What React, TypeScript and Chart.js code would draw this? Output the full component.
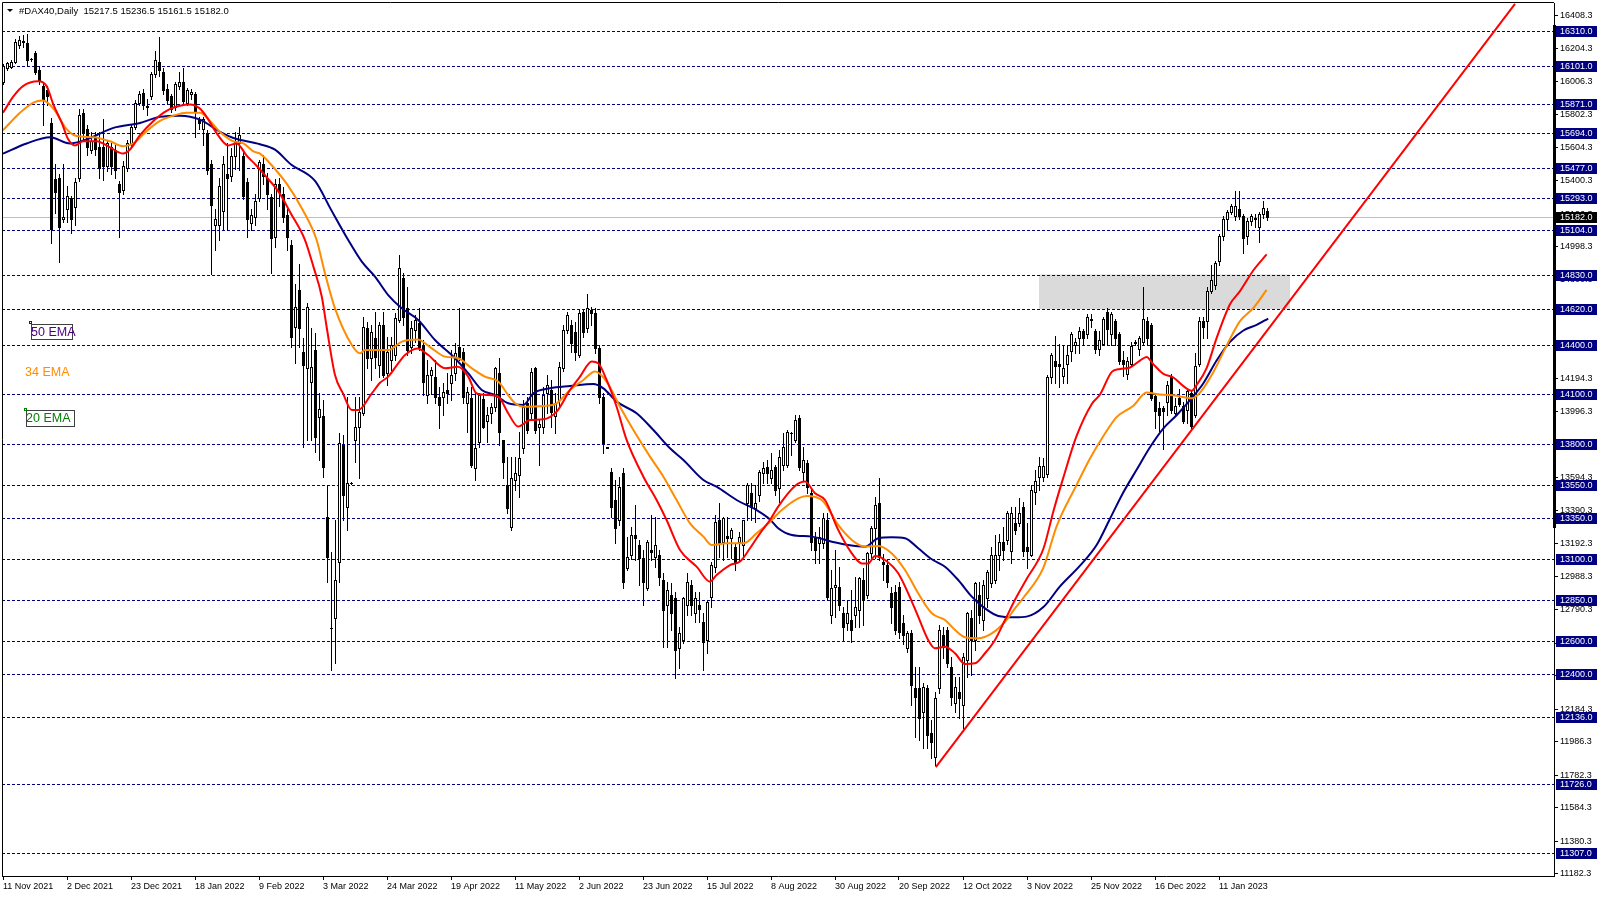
import React, { useEffect, useRef } from 'react';
import { Chart, registerables } from 'chart.js';

Chart.register(...registerables);

// ---------- DATA ----------
const opens = [
  16001, 16088, 16096, 16125, 16225, 16250, 16237, 16140, 16180, 16076,
  15977, 15952, 15752, 15410, 15417, 15165, 15231, 15293, 15243, 15417,
  15815, 15716, 15591, 15666, 15604, 15604, 15492, 15604, 15590, 15380,
  15343, 15480, 15627, 15728, 15877, 15935, 15852, 15915, 16051, 16125,
  16063, 15960, 15915, 15852, 15976, 16001, 15877, 15926, 15926, 15777,
  15715, 15690, 15504, 15131, 15131, 15218, 15442, 15430, 15554, 15628,
  15554, 15392, 15144, 15181, 15293, 15505, 15420, 15300, 15060, 15380,
  15320, 15190, 15010, 14513, 14736, 14360, 14259, 14178, 14371, 13964,
  13969, 13356, 12680, 12737, 13082, 13792, 13417, 13560, 13823, 13904,
  13985, 14503, 14320, 14442, 14279, 14523, 14228, 14310, 14340, 14553,
  14807, 14624, 14391, 14492, 14533, 14401, 14097, 14219, 14208, 14086,
  14086, 14127, 14168, 14229, 14391, 14360, 14046, 14076, 13650, 13813,
  14071, 13940, 13985, 14026, 14229, 13823, 13549, 13290, 13580, 13610,
  13772, 14046, 13985, 14259, 13904, 13904, 14107, 14127, 13970, 14066,
  14259, 14492, 14523, 14482, 14340, 14604, 14503, 14614, 14594, 14381,
  14087, 13775, 13630, 13458, 13336, 13620, 13041, 13122, 13244, 13183,
  13102, 12920, 13153, 13112, 13122, 12970, 12818, 12879, 12858, 12554,
  12605, 12818, 12940, 12767, 12818, 12716, 12605, 12868, 13051, 13336,
  13204, 13235, 13225, 13173, 13204, 13184, 13437, 13498, 13407, 13488,
  13620, 13660, 13589, 13660, 13528, 13670, 13670, 13863, 13823, 13954,
  13629, 13680, 13498, 13224, 13193, 13193, 13335, 12757, 12929, 12929,
  12767, 12706, 12726, 12757, 12787, 12970, 12879, 13132, 13284, 13437,
  13082, 13061, 12889, 12899, 12929, 12706, 12554, 12645, 12311, 12311,
  12169, 12311, 12037, 11895, 12310, 12635, 12665, 12442, 12219, 12290,
  12209, 12483, 12736, 12605, 12878, 12726, 12858, 12950, 12970, 13122,
  13203, 13213, 13148, 13320, 13320, 13412, 13172, 13125, 13503, 13595,
  13595, 13618, 14203, 14306, 14283, 14214, 14283, 14363, 14398, 14443,
  14489, 14466, 14555, 14489, 14374, 14409, 14604, 14466, 14547, 14466,
  14310, 14226, 14283, 14415, 14374, 14420, 14547, 14523, 14088, 14019,
  14019, 14054, 14203, 13988, 14077, 14031, 14008, 14111, 13974, 14283,
  14546, 14546, 14730, 14764, 14913, 15062, 15165, 15211, 15188, 15227,
  15188, 15062, 15154, 15176, 15119, 15199, 15217.5,
];

const highs = [
  16113, 16125, 16135, 16265, 16280, 16290, 16295, 16150, 16190, 16095,
  16000, 15980, 15780, 15505, 15440, 15505, 15370, 15310, 15420, 15840,
  15840, 15740, 15700, 15700, 15700, 15777, 15650, 15630, 15620, 15400,
  15520, 15650, 15740, 15890, 15950, 15960, 15900, 16063, 16190, 16274,
  16090, 15990, 15930, 16000, 16063, 16088, 15965, 15960, 15940, 15790,
  15790, 15710, 15530, 15231, 15420, 15550, 15630, 15600, 15700, 15727,
  15580, 15420, 15230, 15320, 15530, 15560, 15450, 15320, 15410, 15420,
  15360, 15230, 15040, 14775, 14897, 14442, 14655, 14503, 14472, 14107,
  14066, 13549, 13142, 13335, 13863, 13853, 14086, 13565, 14086, 14086,
  14573, 14543, 14523, 14604, 14543, 14604, 14452, 14452, 14594, 14949,
  14837, 14756, 14545, 14583, 14624, 14432, 14310, 14269, 14310, 14147,
  14168, 14229, 14370, 14411, 14624, 14381, 14147, 14147, 14107, 14107,
  14107, 14026, 14046, 14269, 14320, 13823, 13721, 13721, 13720, 13873,
  14066, 14086, 14259, 14269, 13945, 14147, 14218, 14188, 14106, 14300,
  14520, 14604, 14553, 14543, 14614, 14614, 14712, 14635, 14624, 14400,
  14106, 13780, 13650, 13579, 13600, 13650, 13234, 13290, 13427, 13214,
  13153, 13214, 13366, 13356, 13153, 13011, 12960, 12950, 12899, 12686,
  12868, 13011, 12970, 12899, 12899, 12767, 12848, 13082, 13366, 13437,
  13356, 13356, 13285, 13193, 13265, 13336, 13559, 13559, 13549, 13640,
  13691, 13700, 13741, 13670, 13762, 13863, 13883, 13873, 13975, 13975,
  13782, 13700, 13528, 13264, 13295, 13376, 13376, 13031, 13153, 13051,
  12808, 12848, 12909, 12990, 12990, 13041, 13143, 13300, 13477, 13589,
  13130, 13092, 12929, 12940, 12960, 12757, 12660, 12665, 12442, 12442,
  12341, 12331, 12118, 12290, 12696, 12686, 12686, 12503, 12382, 12382,
  12523, 12777, 12787, 12960, 12960, 12970, 13031, 13173, 13244, 13250,
  13295, 13390, 13412, 13412, 13470, 13446, 13320, 13550, 13641, 13721,
  13710, 14220, 14352, 14455, 14409, 14398, 14398, 14478, 14443, 14512,
  14500, 14592, 14592, 14500, 14489, 14569, 14627, 14604, 14558, 14478,
  14363, 14329, 14420, 14430, 14455, 14753, 14569, 14535, 14111, 14054,
  14031, 14180, 14226, 14077, 14134, 14054, 14134, 14123, 14352, 14569,
  14569, 14753, 14890, 14913, 15074, 15188, 15222, 15257, 15337, 15337,
  15200, 15176, 15200, 15200, 15211, 15280, 15236.5,
];

const lows = [
  15989, 16075, 16090, 16115, 16210, 16215, 16100, 16130, 16050, 15990,
  15740, 15860, 15020, 15205, 14908, 15150, 15150, 15080, 15130, 15400,
  15650, 15560, 15570, 15560, 15420, 15405, 15460, 15440, 15420, 15057,
  15320, 15460, 15610, 15715, 15860, 15840, 15800, 15900, 16030, 16040,
  15930, 15870, 15820, 15830, 15960, 15870, 15860, 15900, 15666, 15715,
  15616, 15440, 14836, 14982, 15040, 15100, 15100, 15400, 15470, 15466,
  15290, 15057, 15100, 15130, 15280, 15380, 15230, 14837, 15000, 15250,
  15150, 14980, 14390, 14290, 14390, 13782, 13823, 13823, 13752, 13701,
  13600, 12960, 12422, 12463, 12960, 13335, 13275, 13555, 13690, 13589,
  13975, 14259, 14188, 14259, 14208, 14208, 14157, 14249, 14310, 14540,
  14523, 14340, 14350, 14420, 14370, 14097, 14046, 14100, 14046, 13894,
  13975, 14046, 14066, 14188, 14310, 14046, 13874, 13660, 13579, 13782,
  13894, 13813, 13924, 14000, 13792, 13589, 13380, 13275, 13520, 13478,
  13741, 13863, 13950, 13863, 13670, 13863, 13985, 13904, 13863, 14026,
  14240, 14472, 14360, 14310, 14330, 14452, 14480, 14523, 14350, 14050,
  13741, 13772, 13356, 13194, 13305, 12920, 13031, 13100, 13092, 12940,
  12818, 12910, 13092, 13051, 12940, 12564, 12564, 12665, 12371, 12432,
  12584, 12757, 12757, 12716, 12716, 12422, 12523, 12808, 13020, 13112,
  13092, 13112, 13102, 13031, 13092, 13112, 13336, 13336, 13325, 13450,
  13559, 13560, 13560, 13488, 13447, 13640, 13660, 13731, 13813, 13640,
  13579, 13500, 13150, 13072, 13072, 13163, 12848, 12706, 12747, 12787,
  12604, 12665, 12594, 12686, 12686, 12696, 12860, 13100, 13102, 13092,
  12970, 12929, 12706, 12640, 12615, 12580, 12530, 12209, 12016, 11996,
  11945, 11945, 11884, 11845, 12280, 12493, 12442, 12209, 12168, 12128,
  12067, 12382, 12392, 12544, 12706, 12665, 12807, 12930, 12950, 13031,
  13092, 13190, 13072, 13250, 13300, 13114, 13045, 13114, 13435, 13515,
  13572, 13600, 14168, 14168, 14145, 14168, 14168, 14306, 14352, 14352,
  14398, 14443, 14512, 14352, 14340, 14398, 14398, 14398, 14398, 14283,
  14214, 14191, 14271, 14400, 14340, 14398, 14398, 14065, 13893, 13880,
  13767, 13973, 13985, 13973, 14031, 13927, 13927, 13893, 13962, 14271,
  14443, 14443, 14720, 14741, 14890, 15040, 15108, 15200, 15160, 15170,
  14959, 15016, 15130, 15120, 15028, 15176, 15161.5,
];

const closes = [
  16101, 16118, 16125, 16245, 16255, 16245, 16138, 16143, 16063, 16006,
  15897, 15915, 15107, 15330, 15119, 15180, 15306, 15169, 15392, 15802,
  15691, 15604, 15641, 15592, 15480, 15492, 15628, 15492, 15467, 15330,
  15492, 15628, 15728, 15877, 15926, 15864, 15855, 16051, 16138, 16076,
  15952, 15890, 15840, 15989, 16001, 15889, 15951, 15940, 15827, 15753,
  15777, 15467, 15256, 15168, 15367, 15504, 15417, 15554, 15641, 15678,
  15306, 15169, 15194, 15280, 15517, 15430, 15320, 15050, 15380, 15330,
  15180, 15060, 14451, 14634, 14502, 14279, 14634, 14269, 13843, 14009,
  13660, 13112, 12676, 12970, 13802, 13488, 13559, 13562, 13904, 13990,
  14513, 14320, 14482, 14330, 14523, 14218, 14360, 14401, 14563, 14868,
  14573, 14370, 14502, 14553, 14391, 14178, 14219, 14249, 14086, 14036,
  14117, 14107, 14219, 14350, 14330, 14086, 14117, 13670, 13772, 14097,
  13904, 13975, 14026, 14259, 13874, 13691, 13407, 13589, 13620, 13711,
  14026, 13883, 14239, 13884, 13920, 14097, 14158, 13995, 14050, 14269,
  14492, 14584, 14411, 14360, 14594, 14482, 14624, 14594, 14381, 14086,
  13802, 13777, 13417, 13285, 13538, 12960, 13112, 13244, 13224, 13102,
  12960, 13204, 13143, 13183, 12990, 12787, 12909, 12767, 12544, 12645,
  12858, 12960, 12818, 12858, 12792, 12595, 12838, 13061, 13325, 13194,
  13346, 13225, 13275, 13082, 13234, 13336, 13549, 13417, 13437, 13630,
  13650, 13620, 13640, 13518, 13721, 13782, 13873, 13862, 13944, 13660,
  13700, 13538, 13203, 13153, 13234, 13345, 12868, 12919, 12940, 12818,
  12686, 12767, 12665, 12807, 12980, 12848, 13132, 13284, 13427, 13112,
  13070, 12960, 12808, 12665, 12655, 12635, 12645, 12331, 12260, 12128,
  12321, 12026, 11986, 12250, 12665, 12564, 12463, 12260, 12321, 12250,
  12503, 12767, 12605, 12950, 12757, 12939, 13020, 13122, 13122, 13203,
  13153, 13376, 13377, 13275, 13377, 13148, 13148, 13515, 13572, 13664,
  13664, 14203, 14340, 14271, 14272, 14260, 14340, 14466, 14420, 14489,
  14443, 14569, 14558, 14374, 14432, 14558, 14501, 14592, 14443, 14306,
  14283, 14306, 14397, 14417, 14443, 14558, 14443, 14077, 13996, 13973,
  13996, 14157, 14008, 14031, 14042, 13939, 14123, 13905, 14271, 14546,
  14512, 14730, 14798, 14901, 15062, 15165, 15211, 15245, 15245, 15188,
  15050, 15154, 15188, 15165, 15199, 15234, 15182,
];

// EMA readings: [bar index, price]
const ema20 = [
  [0, 15815], [2.6, 15914], [5, 15977], [8.8, 16006], [10.9, 15977], [12.6, 15865], [14.7, 15753],
  [16.3, 15653], [18, 15616], [20, 15641], [23.4, 15641], [26.75, 15604], [30, 15566], [31.75, 15591],
  [34.25, 15678], [37.6, 15765], [40.9, 15827], [44.25, 15857], [46.75, 15865], [49.25, 15840],
  [50.9, 15790], [53.4, 15691], [56.3, 15616], [58.4, 15628], [60.9, 15554], [63.4, 15492],
  [66, 15420], [69, 15330], [72, 15200], [75.5, 15040], [77.6, 14878], [79.7, 14695], [80.9, 14512],
  [83, 14218], [85, 14106], [87.2, 14005], [88.8, 14005], [92.2, 14106], [94.25, 14171], [96.3, 14208],
  [98.8, 14289], [100.5, 14340], [103.6, 14380], [106.3, 14340], [110.5, 14259], [113.8, 14269],
  [116.3, 14208], [118.4, 14106], [121.3, 14096], [123.8, 14086], [126.3, 13985], [128.8, 13904],
  [131.75, 13944], [135, 13948], [138.4, 13995], [141.75, 14127], [144.25, 14208], [147.2, 14300],
  [148.8, 14289], [150.9, 14188], [153.4, 14025], [155.9, 13823], [160.1, 13599], [163.4, 13457],
  [165.9, 13335], [169.25, 13153], [173.4, 13051], [176.75, 12960], [178.4, 13000], [181.75, 13061],
  [184.25, 13082], [186.75, 13163], [189.25, 13254], [191.75, 13335], [193.8, 13417], [198, 13542],
  [200.5, 13569], [203, 13498], [205.5, 13457], [208.8, 13275], [212.2, 13132], [214.7, 13071],
  [216.3, 13071], [218, 13116], [220.5, 13092], [223.8, 13011], [226.3, 12889], [228.8, 12747],
  [231.3, 12605], [233, 12554], [235.5, 12564], [238, 12524], [240.5, 12459], [243, 12463],
  [245.5, 12524], [248, 12605], [250.5, 12726], [253, 12850], [255.9, 12976], [260.1, 13160],
  [262.6, 13389], [265.1, 13595], [268.4, 13847], [272.2, 14042], [274.25, 14099], [277.2, 14237],
  [279.25, 14255], [281.75, 14264], [284.25, 14306], [285.9, 14328], [287.6, 14283], [290.1, 14225],
  [292.6, 14203], [295.1, 14150], [297.2, 14122], [298.4, 14157], [300.9, 14260], [303.4, 14443],
  [306.75, 14649], [309.25, 14729], [312.6, 14856], [315.9, 14952],
];

const ema34 = [
  [0, 15708], [4.25, 15815], [7.6, 15877], [10, 15889], [12.6, 15840], [15.9, 15715], [18.4, 15673],
  [22.6, 15666], [26.75, 15641], [30, 15611], [32.6, 15628], [35.9, 15703], [39.25, 15765],
  [42.6, 15797], [45.9, 15815], [49.25, 15815], [51.75, 15765], [54.25, 15698], [57.6, 15641],
  [60.1, 15628], [62.6, 15579], [64.25, 15566], [67, 15500], [71, 15380], [75, 15220], [78.4, 15040],
  [80.5, 14837], [83, 14624], [87.2, 14401], [89.25, 14350], [90.5, 14370], [96.3, 14370],
  [99.7, 14421], [103.6, 14435], [107.2, 14380], [110.5, 14330], [113.8, 14320], [117.2, 14259],
  [120.5, 14208], [123.8, 14178], [126.3, 14096], [128, 14046], [130.1, 14025], [135, 14030],
  [138.4, 14046], [141.75, 14127], [145.1, 14188], [148, 14239], [150.9, 14178], [154.25, 14025],
  [157.6, 13883], [161.75, 13721], [165.1, 13599], [168.4, 13457], [171.75, 13315], [175.1, 13234],
  [177.2, 13183], [180.9, 13193], [185.1, 13193], [188.4, 13254], [191.75, 13325], [194.7, 13396],
  [198.8, 13467], [200.9, 13482], [204.7, 13457], [208.8, 13305], [212.2, 13214], [215.5, 13173],
  [218.8, 13177], [222.2, 13132], [225.5, 13031], [228.8, 12889], [232.2, 12767], [235.5, 12726],
  [238, 12666], [240.5, 12621], [243.8, 12615], [247.2, 12645], [250.5, 12716], [253, 12797],
  [255.1, 12862], [260.1, 13045], [263.4, 13297], [268.4, 13549], [271.75, 13710], [275.1, 13847],
  [278.4, 13962], [282.6, 14031], [285.9, 14111], [289.25, 14099], [293.4, 14092], [297.2, 14076],
  [299.25, 14111], [302.6, 14237], [305.9, 14397], [309.25, 14546], [312.6, 14626], [315.9, 14736],
];

const ema50 = [
  [0, 15566], [5.9, 15628], [11.75, 15666], [16.75, 15628], [20.9, 15653], [27.6, 15723],
  [34.25, 15753], [39.25, 15790], [44.25, 15797], [49.25, 15773], [54.25, 15698], [57.6, 15661],
  [64.25, 15623], [68, 15590], [72, 15500], [78, 15400], [82, 15225], [86.3, 15040], [89.7, 14908],
  [93, 14817], [96.3, 14705], [99.7, 14624], [103.8, 14553], [108, 14431], [113, 14320],
  [116.3, 14229], [119.7, 14127], [123, 14096], [126.3, 14046], [130.1, 14036], [132.6, 14107],
  [136.75, 14137], [141.75, 14151], [147.6, 14164], [150.1, 14137], [153.4, 14056], [158.4, 13985],
  [162.6, 13883], [166.75, 13772], [170.1, 13701], [175.1, 13579], [178.4, 13538], [183.4, 13457],
  [188.4, 13396], [191.75, 13339], [193.8, 13285], [197.2, 13244], [202.2, 13234], [207.2, 13203],
  [211.3, 13183], [215.5, 13173], [218.8, 13224], [222.2, 13230], [225.5, 13224], [228.8, 13163],
  [232.2, 13096], [235.5, 13051], [238.8, 12970], [242.2, 12869], [245.5, 12797], [248.8, 12751],
  [253, 12743], [255.9, 12747], [260.1, 12805], [264.25, 12931], [269.25, 13057], [273.4, 13183],
  [276.75, 13343], [280.1, 13504], [283.4, 13641], [286.75, 13778], [290.1, 13893], [293.4, 13973],
  [296.75, 14065], [300.1, 14168], [303.4, 14306], [306.75, 14420], [310.1, 14489], [313.4, 14523],
  [316.3, 14562],
];

const dateLabels = [
  '11 Nov 2021', '2 Dec 2021', '23 Dec 2021', '18 Jan 2022', '9 Feb 2022', '3 Mar 2022',
  '24 Mar 2022', '19 Apr 2022', '11 May 2022', '2 Jun 2022', '23 Jun 2022', '15 Jul 2022',
  '8 Aug 2022', '30 Aug 2022', '20 Sep 2022', '12 Oct 2022', '3 Nov 2022', '25 Nov 2022',
  '16 Dec 2022', '11 Jan 2023',
];
const labelStep = 16;

const priceTicks = [
  16408.3, 16204.3, 16006.3, 15802.3, 15604.3, 15400.3, 15196.3, 14998.3, 14800.3, 14596.3,
  14398.3, 14194.3, 13996.3, 13792.3, 13594.3, 13390.3, 13192.3, 12988.3, 12790.3, 12586.3,
  12388.3, 12184.3, 11986.3, 11782.3, 11584.3, 11380.3, 11182.3,
];

const levels = [
  16310, 16101, 15871, 15694, 15477, 15293, 15104, 14830, 14620, 14400, 14100,
  13800, 13550, 13350, 13100, 12850, 12600, 12400, 12136, 11726, 11307,
];
const lastPrice = 15182.0;

const trendIdx = [233.2, 378];
const trendPrice = [11831, 16478];
const zoneIdx = [259, 321.75];
const zonePrice = [14620, 14830];

const titleText = '#DAX40,Daily  15217.5 15236.5 15161.5 15182.0';
const FONT = "'Liberation Sans', Arial, sans-serif";

const mtPlugin = {
  id: 'mtPlugin',
  beforeDatasetsDraw(chart: any) {
    const { ctx, chartArea: a } = chart;
    const x = chart.scales.x;
    const y = chart.scales.y;
    ctx.save();
    ctx.beginPath();
    ctx.rect(a.left, a.top, a.right - a.left, a.bottom - a.top);
    ctx.clip();
    // zone
    const zx1 = x.getPixelForValue(zoneIdx[0]);
    const zx2 = x.getPixelForValue(zoneIdx[1]);
    const zy1 = y.getPixelForValue(zonePrice[1]);
    const zy2 = y.getPixelForValue(zonePrice[0]);
    ctx.fillStyle = '#DADADA';
    ctx.fillRect(zx1, zy1, zx2 - zx1, zy2 - zy1);
    // last price line
    const lp = Math.round(y.getPixelForValue(lastPrice)) + 0.5;
    ctx.strokeStyle = '#C0C0C0';
    ctx.lineWidth = 1;
    ctx.beginPath();
    ctx.moveTo(a.left, lp);
    ctx.lineTo(a.right, lp);
    ctx.stroke();
    // levels
    ctx.strokeStyle = '#000080';
    ctx.setLineDash([3, 2]);
    for (const lv of levels) {
      const py = Math.round(y.getPixelForValue(lv)) + 0.5;
      ctx.beginPath();
      ctx.moveTo(a.left, py);
      ctx.lineTo(a.right, py);
      ctx.stroke();
    }
    ctx.setLineDash([]);
    // candles
    for (let i = 0; i < closes.length; i++) {
      const cx = Math.round(x.getPixelForValue(i));
      const yo = Math.round(y.getPixelForValue(opens[i]));
      const yc = Math.round(y.getPixelForValue(closes[i]));
      const yh = Math.round(y.getPixelForValue(highs[i]));
      const yl = Math.round(y.getPixelForValue(lows[i]));
      ctx.fillStyle = '#000';
      ctx.fillRect(cx, yh, 1, yl - yh + 1);
      const top = Math.min(yo, yc);
      const bot = Math.max(yo, yc);
      ctx.fillRect(cx - 1, top, 3, bot - top + 1);
      if (closes[i] > opens[i] && bot - top >= 2) {
        ctx.fillStyle = '#fff';
        ctx.fillRect(cx, top + 1, 1, bot - top - 1);
      }
    }
    ctx.restore();
  },
  afterDraw(chart: any) {
    const { ctx, chartArea: a } = chart;
    const y = chart.scales.y;
    ctx.save();
    // frame
    ctx.strokeStyle = '#000';
    ctx.lineWidth = 1;
    ctx.beginPath();
    ctx.moveTo(a.left + 0.5, a.bottom);
    ctx.lineTo(a.left + 0.5, a.top - 0.5);
    ctx.lineTo(a.right, a.top - 0.5);
    ctx.stroke();
    ctx.fillStyle = '#000';
    ctx.fillRect(a.right - 1, 25, 3, 503);
    // level boxes
    ctx.font = `9px ${FONT}`;
    ctx.textBaseline = 'middle';
    ctx.textAlign = 'left';
    for (const lv of levels) {
      const py = Math.round(y.getPixelForValue(lv));
      ctx.fillStyle = '#000080';
      ctx.fillRect(a.right + 2, py - 5, 41, 11);
      ctx.fillStyle = '#fff';
      ctx.fillText(lv.toFixed(1), a.right + 6, py + 0.5);
    }
    const lpy = Math.round(y.getPixelForValue(lastPrice));
    ctx.fillStyle = '#000';
    ctx.fillRect(a.right + 2, lpy - 5, 41, 11);
    ctx.fillStyle = '#fff';
    ctx.fillText(lastPrice.toFixed(1), a.right + 6, lpy + 0.5);
    // title
    ctx.fillStyle = '#000';
    ctx.beginPath();
    ctx.moveTo(7, 9);
    ctx.lineTo(13, 9);
    ctx.lineTo(10, 12);
    ctx.closePath();
    ctx.fill();
    ctx.font = `9.5px ${FONT}`;
    ctx.fillText(titleText, 19, 11);
    // EMA labels
    ctx.font = `12.5px ${FONT}`;
    ctx.strokeStyle = '#404040';
    ctx.strokeRect(31.5, 324.5, 41, 15);
    ctx.fillStyle = '#4B0082';
    ctx.fillText('50 EMA', 31, 332.5);
    ctx.strokeStyle = '#4B0082';
    ctx.strokeRect(29.5, 321.5, 2, 2);
    ctx.fillStyle = '#FF8C00';
    ctx.fillText('34 EMA', 25, 372.5);
    ctx.strokeStyle = '#404040';
    ctx.strokeRect(26.5, 410.5, 48, 16);
    ctx.fillStyle = '#008000';
    ctx.fillText('20 EMA', 26, 418.5);
    ctx.strokeStyle = '#008000';
    ctx.strokeRect(24.5, 408.5, 2, 2);
    ctx.restore();
  },
};

export default function App() {
  const ref = useRef<HTMLCanvasElement | null>(null);
  useEffect(() => {
    if (!ref.current) return;
    const toPts = (arr: number[][]) => arr.map(([i, v]) => ({ x: i, y: v }));
    const chart = new Chart(ref.current, {
      type: 'line',
      data: {
        datasets: [
          { label: 'EMA20', data: toPts(ema20), borderColor: '#FF0000', borderWidth: 2, pointRadius: 0, cubicInterpolationMode: 'monotone' },
          { label: 'EMA34', data: toPts(ema34), borderColor: '#FF8C00', borderWidth: 2, pointRadius: 0, cubicInterpolationMode: 'monotone' },
          { label: 'EMA50', data: toPts(ema50), borderColor: '#000080', borderWidth: 2, pointRadius: 0, cubicInterpolationMode: 'monotone' },
          {
            label: 'Trend',
            data: [{ x: trendIdx[0], y: trendPrice[0] }, { x: trendIdx[1], y: trendPrice[1] }],
            borderColor: '#FF0000', borderWidth: 2, pointRadius: 0,
          },
        ],
      } as any,
      options: {
        animation: false,
        responsive: true,
        maintainAspectRatio: false,
        events: [],
        layout: { padding: { left: 2, top: 3, right: 0, bottom: 0 } },
        plugins: { legend: { display: false }, tooltip: { enabled: false }, title: { display: false } },
        scales: {
          x: {
            type: 'linear',
            bounds: 'data',
            min: -0.25,
            max: 387.75,
            afterBuildTicks: (s: any) => {
              s.ticks = dateLabels.map((_, k) => ({ value: k * labelStep }));
            },
            afterFit: (s: any) => {
              s.height = 21;
              s.paddingLeft = 0; s.paddingRight = 0; s.paddingTop = 0; s.paddingBottom = 0;
            },
            ticks: {
              autoSkip: false,
              maxRotation: 0,
              minRotation: 0,
              align: 'start',
              padding: 1,
              color: '#000',
              font: { family: FONT, size: 9 },
              callback: (v: any) => dateLabels[Math.round(Number(v) / labelStep)] ?? '',
            },
            grid: { drawOnChartArea: false, drawTicks: true, tickLength: 4, color: '#000' },
            border: { display: true, color: '#000', width: 1 },
          },
          y: {
            type: 'linear',
            position: 'right',
            bounds: 'data',
            min: 11167.7,
            max: 16483.1,
            afterBuildTicks: (s: any) => {
              s.ticks = priceTicks.map((v) => ({ value: v }));
            },
            afterFit: (s: any) => {
              s.width = 46;
              s.paddingLeft = 0; s.paddingRight = 0; s.paddingTop = 0; s.paddingBottom = 0;
            },
            ticks: {
              autoSkip: false,
              padding: 2,
              color: '#000',
              font: { family: FONT, size: 9 },
              callback: (v: any) => Number(v).toFixed(1),
            },
            grid: { drawOnChartArea: false, drawTicks: true, tickLength: 4, color: '#000' },
            border: { display: true, color: '#000', width: 1 },
          },
        },
      } as any,
      plugins: [mtPlugin],
    });
    return () => chart.destroy();
  }, []);
  return (
    <div style={{ position: 'fixed', left: 0, top: 0, width: 1600, height: 897, background: '#fff' }}>
      <canvas ref={ref} />
    </div>
  );
}
